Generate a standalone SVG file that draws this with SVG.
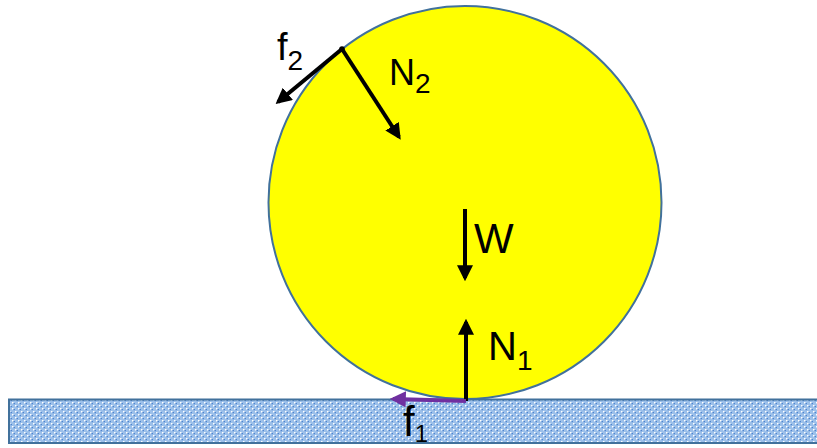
<svg xmlns="http://www.w3.org/2000/svg" width="817" height="448" viewBox="0 0 817 448">
<style>
.lbl{font-family:"Liberation Sans",Arial,sans-serif;fill:#000}
.force{stroke:#000;stroke-width:4;fill:none}
</style>
<defs>
<pattern id="dots" width="6" height="6" patternUnits="userSpaceOnUse">
<rect width="6" height="6" fill="#9CC0EA"/>
<rect x="0" y="0" width="1.5" height="1.5" fill="#ffffff"/>
<rect x="3" y="3" width="1.5" height="1.5" fill="#ffffff"/>
<rect x="1.5" y="1" width="1.5" height="1.2" fill="#4F86D0"/>
<rect x="4.5" y="4" width="1.5" height="1.2" fill="#4F86D0"/>
</pattern>
<marker id="ah" viewBox="0 0 10 10" refX="8" refY="5" markerWidth="4" markerHeight="4" orient="auto" markerUnits="strokeWidth">
<path d="M0,0 L10,5 L0,10 z" fill="#000"/>
</marker>
<marker id="ahp" viewBox="0 0 10 10" refX="8" refY="5" markerWidth="4" markerHeight="4" orient="auto" markerUnits="strokeWidth">
<path d="M0,0 L10,5 L0,10 z" fill="#7030A0"/>
</marker>
</defs>
<g id="ground">
<rect x="9" y="399.5" width="820" height="43.5" fill="url(#dots)" stroke="#41719C" stroke-width="2"/>
</g>
<g id="ball">
<circle cx="465" cy="202.5" r="196.5" fill="#FFFF00" stroke="#41719C" stroke-width="2"/>
</g>
<g id="connectors">
<line class="force" x1="342" y1="49" x2="278" y2="102" marker-end="url(#ah)"/>
<line class="force" x1="342" y1="49" x2="399" y2="137" marker-end="url(#ah)"/>
<line class="force" x1="465" y1="209" x2="465" y2="278" marker-end="url(#ah)"/>
<line class="force" x1="466" y1="401" x2="466" y2="322" marker-end="url(#ah)"/>
<line x1="466" y1="401" x2="393" y2="399" stroke="#7030A0" stroke-width="4" marker-end="url(#ahp)"/>
<circle cx="342" cy="49" r="2.8" fill="#000"/>
</g>
<g id="labels">
<text class="lbl" x="403" y="436" font-size="42">f<tspan font-size="24" dy="6">1</tspan></text>
<text class="lbl" x="277" y="60" font-size="38">f<tspan font-size="28" dy="10">2</tspan></text>
<text class="lbl" x="389" y="85" font-size="36">N<tspan font-size="28" dy="8">2</tspan></text>
<text class="lbl" x="474" y="253" font-size="42">W</text>
<text class="lbl" x="488" y="360" font-size="40">N<tspan font-size="28" dy="10">1</tspan></text>
</g>
</svg>
